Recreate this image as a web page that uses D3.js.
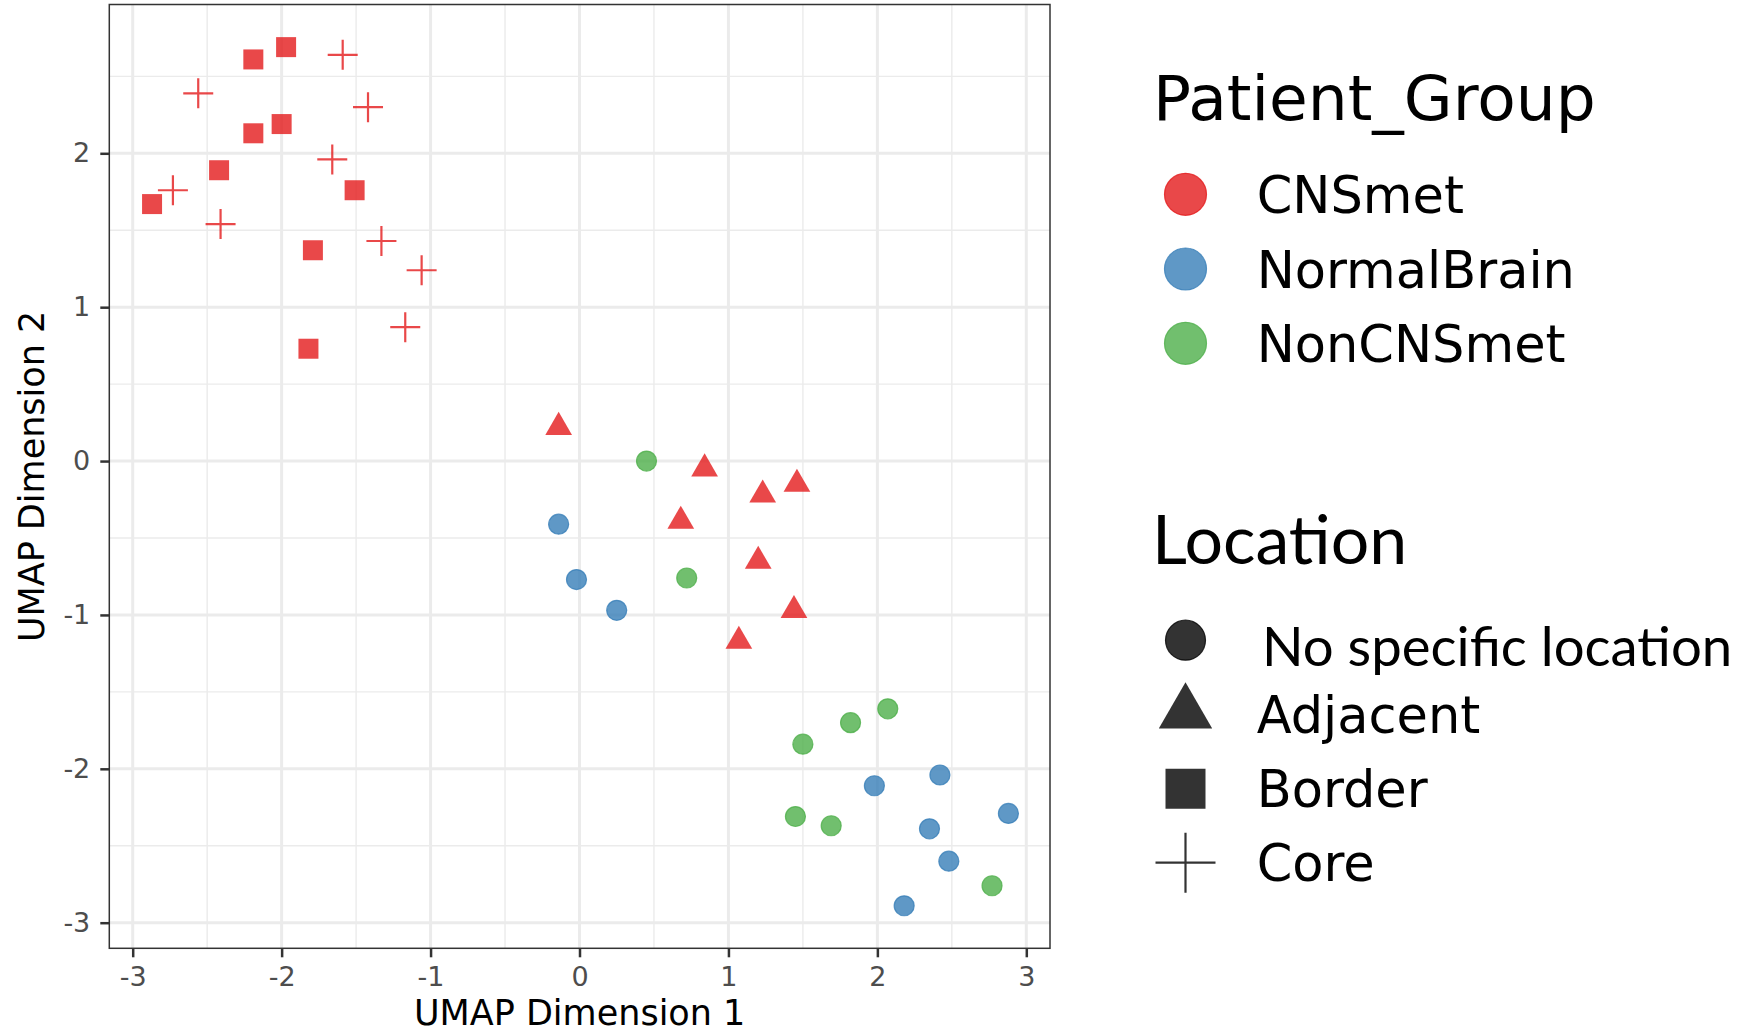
<!DOCTYPE html>
<html>
  <head>
    <meta charset="utf-8">
    <title>UMAP by patient group and location</title>
    <script src="https://d3js.org/d3.v7.min.js"></script>
    <style>
      body { margin: 0; background: #fff; }
      svg text { font-family: "DejaVu Sans", sans-serif; }
    </style>
  </head>
  <body>
    <svg id="chart" width="1752" height="1033"></svg>
    <script>
      // point data
      const umap1 = [-2.19, -1.97, -2.19, -2.00, -2.42, -2.87, -1.51, -1.79, -1.82,
                     -1.59, -2.56, -1.42, -1.66, -2.73, -2.41, -1.33, -1.06, -1.17,
                     -0.14, 0.84, 1.23, 1.46, 0.68, 1.20, 1.44, 1.07,
                     0.45, 0.72, 2.07, 1.82, 1.50, 1.45, 1.69, 2.77,
                     -0.14, -0.02, 0.25, 2.42, 1.98, 2.35, 2.88, 2.48, 2.18];
      const umap2 = [2.61, 2.69, 2.13, 2.19, 1.89, 1.67, 1.76, 1.37, 0.73,
                     2.64, 2.39, 2.30, 1.96, 1.76, 1.54, 1.43, 1.24, 0.87,
                     0.22, -0.05, -0.22, -0.15, -0.39, -0.65, -0.97, -1.17,
                     0.00, -0.76, -1.61, -1.70, -1.84, -2.31, -2.37, -2.76,
                     -0.41, -0.77, -0.97, -2.04, -2.11, -2.39, -2.29, -2.60, -2.89];
      const patientGroup = d3.range(26).map(() => "CNSmet")
        .concat(d3.range(8).map(() => "NonCNSmet"))
        .concat(d3.range(9).map(() => "NormalBrain"));
      const sampleLocation = d3.range(9).map(() => "Border")
        .concat(d3.range(9).map(() => "Core"))
        .concat(d3.range(8).map(() => "Adjacent"))
        .concat(d3.range(17).map(() => "No specific location"));

      const groups = ["CNSmet", "NormalBrain", "NonCNSmet"];
      const groupColors = ["#E41A1C", "#377EB8", "#4DAF4A"];
      const locations = ["No specific location", "Adjacent", "Border", "Core"];
      const xTicks = [-3, -2, -1, 0, 1, 2, 3];
      const yTicks = [-3, -2, -1, 0, 1, 2];

      const points = umap1.map(function(d, i) {
        return { x: d, y: umap2[i], group: patientGroup[i], loc: sampleLocation[i] };
      });

      const svg = d3.select("#chart");
      const panel = { left: 109.3, right: 1050, top: 4.5, bottom: 948.3 };

      const x = d3.scaleLinear().domain([-3, 3]).range([132.7, 1026.3]);
      const y = d3.scaleLinear().domain([-3, 2]).range([922.7, 153.3]);
      const color = d3.scaleOrdinal().domain(groups).range(groupColors);

      // grid
      const grid = svg.append("g");
      const xMinor = d3.range(-2.5, 3, 1);
      const yMinor = d3.range(-2.5, 3, 1);
      grid.selectAll(".xminor").data(xMinor).enter().append("line")
        .attr("x1", d => x(d)).attr("x2", d => x(d))
        .attr("y1", panel.top).attr("y2", panel.bottom)
        .attr("stroke", "#EBEBEB").attr("stroke-width", 1.4);
      grid.selectAll(".yminor").data(yMinor).enter().append("line")
        .attr("y1", d => y(d)).attr("y2", d => y(d))
        .attr("x1", panel.left).attr("x2", panel.right)
        .attr("stroke", "#EBEBEB").attr("stroke-width", 1.4);
      grid.selectAll(".xmajor").data(xTicks).enter().append("line")
        .attr("x1", d => x(d)).attr("x2", d => x(d))
        .attr("y1", panel.top).attr("y2", panel.bottom)
        .attr("stroke", "#EBEBEB").attr("stroke-width", 3);
      grid.selectAll(".ymajor").data(yTicks).enter().append("line")
        .attr("y1", d => y(d)).attr("y2", d => y(d))
        .attr("x1", panel.left).attr("x2", panel.right)
        .attr("stroke", "#EBEBEB").attr("stroke-width", 3);

      // shapes
      const circlePath = d3.symbol().type(d3.symbolCircle).size(314)();
      const trianglePath = d3.symbol().type(d3.symbolTriangle).size(309)();
      const squarePath = d3.symbol().type(d3.symbolSquare).size(400)();
      function crossPath(h) {
        const p = d3.path();
        p.moveTo(-h, 0); p.lineTo(h, 0);
        p.moveTo(0, -h); p.lineTo(0, h);
        return p.toString();
      }

      function drawShape(sel, loc, col, scale) {
        if (loc == "Core") {
          sel.append("path")
            .attr("d", crossPath(15 * scale))
            .attr("fill", "none")
            .attr("stroke", col)
            .attr("stroke-opacity", 0.8)
            .attr("stroke-width", 2.2);
          return;
        }
        const d = loc == "Adjacent" ? trianglePath : loc == "Border" ? squarePath : circlePath;
        const s = sel.append("path")
          .attr("d", d)
          .attr("transform", "scale(" + scale + ")")
          .attr("fill", col)
          .attr("fill-opacity", 0.8);
        if (loc == "No specific location") {
          s.attr("stroke", col).attr("stroke-opacity", 0.8).attr("stroke-width", 1.2 / scale);
        }
      }

      svg.append("g").selectAll("g")
          .data(points)
        .enter().append("g")
          .attr("transform", d => "translate(" + x(d.x) + "," + y(d.y) + ")")
          .each(function(d) { drawShape(d3.select(this), d.loc, color(d.group), 1); });

      // panel border
      svg.append("rect")
        .attr("x", panel.left).attr("y", panel.top)
        .attr("width", panel.right - panel.left)
        .attr("height", panel.bottom - panel.top)
        .attr("fill", "none").attr("stroke", "#333").attr("stroke-width", 1.5);

      // axes
      const xAxis = svg.append("g")
        .attr("transform", "translate(0," + panel.bottom + ")")
        .call(d3.axisBottom(x).tickValues(xTicks).tickSize(9).tickPadding(10).tickFormat(d3.format("d")));
      const yAxis = svg.append("g")
        .attr("transform", "translate(" + panel.left + ",0)")
        .call(d3.axisLeft(y).tickValues(yTicks).tickSize(9).tickPadding(10).tickFormat(d3.format("d")));
      [xAxis, yAxis].forEach(function(a) {
        a.select(".domain").remove();
        a.selectAll(".tick line").attr("stroke", "#333").attr("stroke-width", 2.5);
        a.selectAll(".tick text")
          .attr("fill", "#4D4D4D")
          .style("font-family", "'DejaVu Sans', sans-serif")
          .style("font-size", "27px");
      });
      xAxis.selectAll(".tick text").text(d => d < 0 ? "-" + Math.abs(d) : d);
      yAxis.selectAll(".tick text").text(d => d < 0 ? "-" + Math.abs(d) : d);

      svg.append("text")
        .attr("x", (panel.left + panel.right) / 2).attr("y", 1025)
        .attr("text-anchor", "middle")
        .style("font-size", "35px")
        .text("UMAP Dimension 1");
      svg.append("text")
        .attr("transform", "translate(44," + (panel.top + panel.bottom) / 2 + ") rotate(-90)")
        .attr("text-anchor", "middle")
        .style("font-size", "35px")
        .text("UMAP Dimension 2");

      // legend: patient group
      const legendX = 1185.5;
      const labelX = 1256.7;
      svg.append("text")
        .attr("x", 1153).attr("y", 120)
        .style("font-size", "63px")
        .text("Patient_Group");
      const groupRows = [194.3, 269, 343.3];
      groups.forEach(function(g, i) {
        const row = svg.append("g")
          .attr("transform", "translate(" + legendX + "," + groupRows[i] + ")");
        drawShape(row, "No specific location", color(g), 2.1);
        svg.append("text")
          .attr("x", labelX).attr("y", groupRows[i] + 19)
          .style("font-size", "51px")
          .text(g);
      });

      // legend: location
      svg.append("text")
        .attr("x", 1152).attr("y", 564)
        .style("font-family", "Lato, sans-serif")
        .style("font-size", "68px")
        .text("Location");
      const locRows = [640.2, 713, 788.7, 862.7];
      const locBase = [666, 733.3, 806.7, 880.7];
      const locScale = [2.0, 2.0, 2.0, 2.0];
      locations.forEach(function(l, i) {
        const row = svg.append("g")
          .attr("transform", "translate(" + legendX + "," + locRows[i] + ")");
        drawShape(row, l, "#000", locScale[i]);
        const t = svg.append("text")
          .attr("x", i == 0 ? 1262 : labelX).attr("y", locBase[i])
          .style("font-size", "51px")
          .text(l);
        if (i == 0) {
          t.style("font-family", "Lato, sans-serif").style("font-size", "54.5px");
        }
      });
    </script>
  </body>
</html>
